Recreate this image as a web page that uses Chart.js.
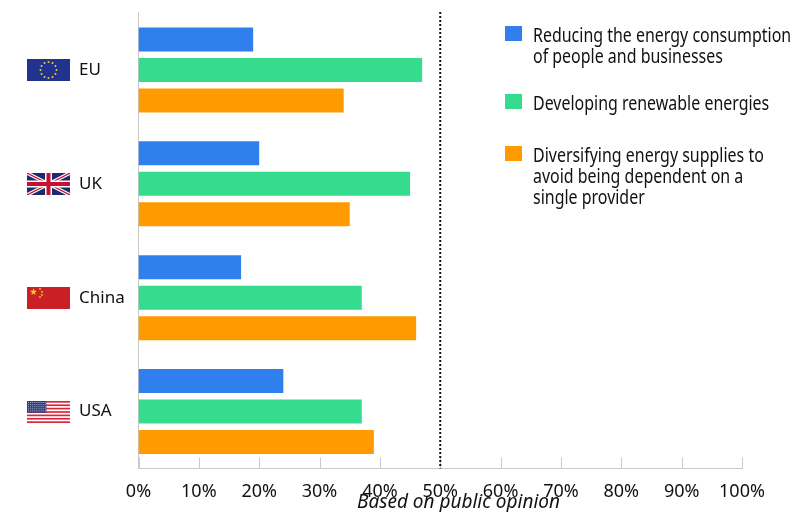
<!DOCTYPE html>
<html>
<head>
<meta charset="utf-8">
<script src="https://cdn.jsdelivr.net/npm/chart.js@4"></script>
<style>
  html, body { margin: 0; padding: 0; background: #fff; }
  #wrap { position: relative; width: 808px; height: 512px; overflow: hidden; font-family: "Noto Sans", sans-serif; color: #111; }
  #myChart { position: absolute; left: 0; top: 0; }
  .swatch { position: absolute; left: 505px; width: 17px; height: 15px; }
  .label { position: absolute; left: 533px; font-size: 19px; line-height: 21px; white-space: nowrap; transform: scaleX(0.84); transform-origin: left top; }
  #note { position: absolute; left: 357px; top: 488px; font: italic 19px "Noto Sans", sans-serif; white-space: nowrap; }
</style>
</head>
<body>
<div id="wrap">
  <canvas id="myChart" width="808" height="512"></canvas>
  <div id="legend"></div>
  <div id="note">Based on public opinion</div>
</div>
<script>
var countries = ["EU", "UK", "China", "USA"];
var reducing = [19, 20, 17, 24];
var renewables = [47, 45, 37, 37];
var diversifying = [34, 35, 46, 39];
var tickValues = [0, 10, 20, 30, 40, 50, 60, 70, 80, 90, 100];
var seriesNames = ["Reducing the energy consumption of people and businesses", "Developing renewable energies", "Diversifying energy supplies to avoid being dependent on a single provider"];
var legendLines = [["Reducing the energy consumption", "of people and businesses"], ["Developing renewable energies"], ["Diversifying energy supplies to", "avoid being dependent on a", "single provider"]];
var threshold = 50;

var BLUE = "#2f80ed", GREEN = "#36dc8e", ORANGE = "#ff9b00";
var colors = [BLUE, GREEN, ORANGE];
var FONT = "Noto Sans";

// legend is plain html so it can wrap the same way as the original
var legendTops = [26, 94, 146];
var legendEl = document.getElementById("legend");
legendLines.forEach(function (lines, i) {
  var s = document.createElement("div");
  s.className = "swatch";
  s.style.top = legendTops[i] + "px";
  s.style.background = colors[i];
  legendEl.appendChild(s);
  var t = document.createElement("div");
  t.className = "label";
  t.style.top = (legendTops[i] - 1) + "px";
  t.innerHTML = lines.join("<br>");
  legendEl.appendChild(t);
});

function drawEU(c, x, y, w, h) {
  c.fillStyle = "#22328f";
  c.fillRect(x, y, w, h);
  c.fillStyle = "#e8cf2a";
  for (var i = 0; i < 12; i++) {
    var a = i * Math.PI / 6;
    c.beginPath();
    c.arc(x + w / 2 + Math.cos(a) * 8, y + h / 2 + Math.sin(a) * 8, 1, 0, Math.PI * 2);
    c.fill();
  }
}

function drawUK(c, x, y, w, h) {
  c.save();
  c.beginPath();
  c.rect(x, y, w, h);
  c.clip();
  c.fillStyle = "#1f2a6e";
  c.fillRect(x, y, w, h);
  function cross(color, lw) {
    c.strokeStyle = color;
    c.lineWidth = lw;
    c.beginPath();
    c.moveTo(x, y); c.lineTo(x + w, y + h);
    c.moveTo(x + w, y); c.lineTo(x, y + h);
    c.stroke();
  }
  cross("#fff", 3.5);
  cross("#c8102e", 1.2);
  c.fillStyle = "#fff";
  c.fillRect(x + w / 2 - 3.5, y, 7, h);
  c.fillRect(x, y + h / 2 - 3.5, w, 7);
  c.fillStyle = "#c8102e";
  c.fillRect(x + w / 2 - 2, y, 4, h);
  c.fillRect(x, y + h / 2 - 2, w, 4);
  c.restore();
}

function star(c, cx, cy, r) {
  c.beginPath();
  for (var i = 0; i < 10; i++) {
    var rr = i % 2 ? r * 0.4 : r;
    var a = -Math.PI / 2 + i * Math.PI / 5;
    c.lineTo(cx + Math.cos(a) * rr, cy + Math.sin(a) * rr);
  }
  c.closePath();
  c.fill();
}

function drawChina(c, x, y, w, h) {
  c.fillStyle = "#cb1f26";
  c.fillRect(x, y, w, h);
  c.fillStyle = "#fbd116";
  star(c, x + 6.5, y + 5, 3.8);
  star(c, x + 13, y + 2, 1.5);
  star(c, x + 15, y + 5, 1.5);
  star(c, x + 15, y + 8, 1.5);
  star(c, x + 13, y + 10, 1.5);
}

function drawUSA(c, x, y, w, h) {
  c.fillStyle = "#fff";
  c.fillRect(x, y, w, h);
  c.fillStyle = "#d8283c";
  var sh = h / 13;
  for (var i = 0; i < 13; i += 2) c.fillRect(x, y + i * sh, w, sh);
  c.fillStyle = "#343c78";
  c.fillRect(x, y, w * 0.45, sh * 7);
  c.fillStyle = "#aab0d0";
  for (var r = 0; r < 5; r++) {
    for (var q = 0; q < 9; q++) c.fillRect(x + 1 + q * 2.1, y + 1 + r * 2.1, 1, 1);
  }
}

var flagDrawers = [drawEU, drawUK, drawChina, drawUSA];

var extras = {
  id: "extras",
  afterDatasetsDraw: function (chart) {
    var c = chart.ctx, xs = chart.scales.x, ys = chart.scales.y, area = chart.chartArea;
    c.save();
    // ticks sit inside the plot, above the axis line
    c.strokeStyle = "#c9c9c9";
    c.lineWidth = 1;
    tickValues.forEach(function (v) {
      var px = Math.round(xs.getPixelForValue(v)) + 0.5;
      c.beginPath();
      c.moveTo(px, area.bottom);
      c.lineTo(px, area.bottom - 11);
      c.stroke();
    });
    // axis and 50% line start a little above the plot
    c.beginPath();
    c.moveTo(area.left, area.top);
    c.lineTo(area.left, area.top - 1);
    c.stroke();
    var dx = xs.getPixelForValue(threshold);
    c.strokeStyle = "#111";
    c.lineWidth = 2;
    c.setLineDash([2, 2]);
    c.beginPath();
    c.moveTo(dx, area.top - 1);
    c.lineTo(dx, area.bottom);
    c.stroke();
    c.setLineDash([]);
    // flags next to the category names
    countries.forEach(function (name, i) {
      var cy = Math.round(ys.getPixelForValue(i));
      flagDrawers[i](c, 27, cy - 11, 43, 22);
    });
    c.restore();
  }
};

var ctx = document.getElementById("myChart");
new Chart(ctx, {
  type: "bar",
  data: {
    labels: countries,
    datasets: [
      { label: seriesNames[0], data: reducing, backgroundColor: BLUE },
      { label: seriesNames[1], data: renewables, backgroundColor: GREEN },
      { label: seriesNames[2], data: diversifying, backgroundColor: ORANGE }
    ]
  },
  options: {
    indexAxis: "y",
    responsive: false,
    animation: false,
    layout: { padding: { left: 79, right: 66, top: 13, bottom: 0 } },
    plugins: { legend: { display: false }, tooltip: { enabled: false } },
    datasets: { bar: { categoryPercentage: 0.803, barPercentage: 0.787 } },
    scales: {
      x: {
        min: 0,
        max: 100,
        afterFit: function (scale) { scale.height = 43.5; scale.paddingLeft = 0; scale.paddingRight = 0; },
        afterBuildTicks: function (scale) { scale.ticks = tickValues.map(function (v) { return { value: v }; }); },
        grid: { display: false },
        border: { color: "#c9c9c9" },
        ticks: {
          color: "#111",
          padding: 5,
          maxRotation: 0,
          font: { family: FONT, size: 18 },
          callback: function (v) { return v + "%"; }
        }
      },
      y: {
        afterFit: function (scale) { scale.width = 59.5; scale.paddingTop = 0; scale.paddingBottom = 0; },
        grid: { display: false },
        border: { color: "#c9c9c9" },
        ticks: {
          color: "#111",
          crossAlign: "far",
          font: { family: FONT, size: 17 }
        }
      }
    }
  },
  plugins: [extras]
});
</script>
</body>
</html>
